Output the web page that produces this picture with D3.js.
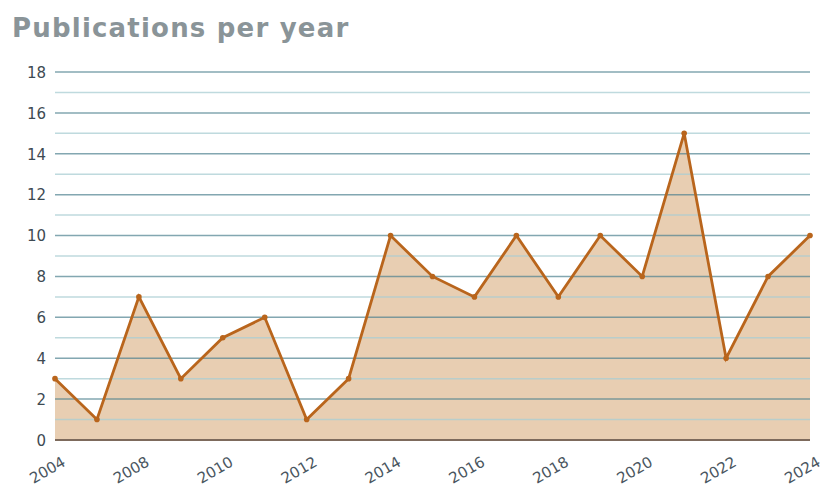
<!DOCTYPE html>
<html>
<head>
<meta charset="utf-8">
<script src="https://cdnjs.cloudflare.com/ajax/libs/d3/7.8.5/d3.min.js"></script>
<style>
  body { margin: 0; background: #fff; }
  text { font-family: "DejaVu Sans", Verdana, sans-serif; }
</style>
</head>
<body>
<script>
//
//**   Dane   **/
//

var years = ["2004","2006","2008","2009","2010","2011","2012","2013","2014","2015",
             "2016","2017","2018","2019","2020","2021","2022","2023","2024"];
var counts = [3, 1, 7, 3, 5, 6, 1, 3, 10, 8, 7, 10, 7, 10, 8, 15, 4, 8, 10];
var yTicks = [0, 2, 4, 6, 8, 10, 12, 14, 16, 18];
var xLabels = ["2004","2008","2010","2012","2014","2016","2018","2020","2022","2024"];

var width = 825, height = 490;
var data = years.map(function (y, i) { return { year: y, value: counts[i] }; });

var svg = d3.select("body").append("svg")
    .attr("width", width)
    .attr("height", height);

//
//**   Osie   **/
//

var x = d3.scalePoint()
    .domain(years)
    .range([55, 810]);

var y = d3.scaleLinear()
    .domain([0, 18])
    .range([440, 72]);

svg.append("text")
    .attr("x", 12)
    .attr("y", 37)
    .style("font-size", "26px")
    .style("font-weight", "bold")
    .style("letter-spacing", "1.2px")
    .style("fill", "#8a9498")
    .text("Publications per year");

// area first, grid drawn over it
var area = d3.area()
    .x(function (d) { return x(d.year); })
    .y0(y(0))
    .y1(function (d) { return y(d.value); });

svg.append("path")
    .datum(data)
    .attr("d", area)
    .style("fill", "#e8ceb2");

var minor = d3.range(1, 18, 2);

svg.append("g").selectAll("line").data(minor).enter()
  .append("line")
    .attr("x1", 55).attr("x2", 810)
    .attr("y1", function (d) { return y(d); })
    .attr("y2", function (d) { return y(d); })
    .style("stroke", "#a9cdd3")
    .style("stroke-opacity", 0.75)
    .style("stroke-width", 1.5);

svg.append("g").selectAll("line").data(yTicks.slice(1)).enter()
  .append("line")
    .attr("x1", 55).attr("x2", 810)
    .attr("y1", function (d) { return y(d); })
    .attr("y2", function (d) { return y(d); })
    .style("stroke", "#4f8290")
    .style("stroke-opacity", 0.7)
    .style("stroke-width", 1.5);

svg.append("line")
    .attr("x1", 55).attr("x2", 810)
    .attr("y1", y(0)).attr("y2", y(0))
    .style("stroke", "#7d6a5c")
    .style("stroke-width", 2);

var yAxis = d3.axisLeft(y)
    .tickValues(yTicks)
    .tickSize(0)
    .tickPadding(9);

var gY = svg.append("g")
    .attr("transform", "translate(55,0)")
    .call(yAxis);
gY.select(".domain").remove();
gY.selectAll("text")
    .style("font-size", "15px")
    .style("fill", "#3e4a52")
    .attr("dy", "0.35em");

var xAxis = d3.axisBottom(x)
    .tickValues(years.filter(function (d) { return xLabels.indexOf(d) >= 0; }))
    .tickSize(0)
    .tickPadding(0);

var gX = svg.append("g")
    .attr("transform", "translate(0," + y(0) + ")")
    .call(xAxis);
gX.select(".domain").remove();
gX.selectAll("text")
    .style("font-size", "15px")
    .style("fill", "#4a5660")
    .style("text-anchor", "end")
    .attr("dy", null)
    .attr("y", 0)
    .attr("transform", "translate(11,25) rotate(-30)");

//
//**   Wykres   **/
//

var line = d3.line()
    .x(function (d) { return x(d.year); })
    .y(function (d) { return y(d.value); });

svg.append("path")
    .datum(data)
    .attr("d", line)
    .style("fill", "none")
    .style("stroke", "#b9651c")
    .style("stroke-width", 2.8)
    .style("stroke-linejoin", "miter");

svg.append("g").selectAll("circle").data(data).enter()
  .append("circle")
    .attr("cx", function (d) { return x(d.year); })
    .attr("cy", function (d) { return y(d.value); })
    .attr("r", 2.8)
    .style("fill", "#b9651c");
</script>
</body>
</html>
